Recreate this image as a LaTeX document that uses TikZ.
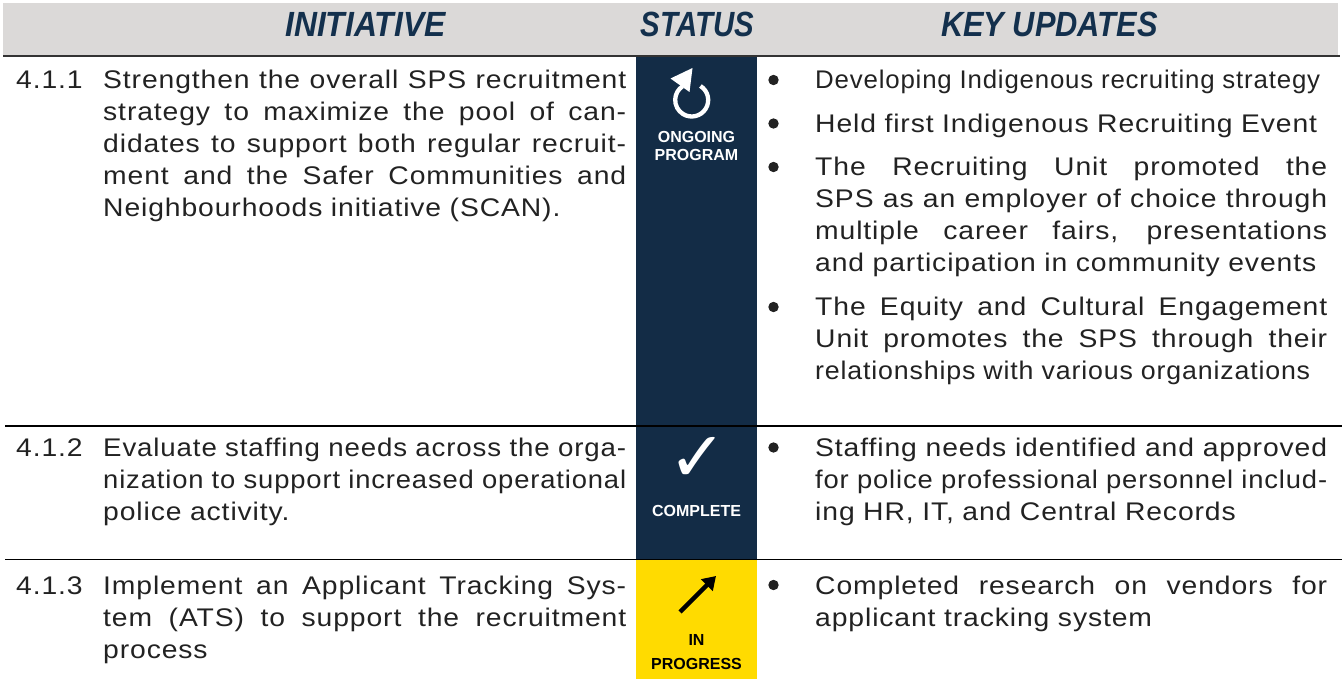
\documentclass[tikz,border=0pt]{standalone}
\usepackage{fontspec}
\usetikzlibrary{arrows.meta}
\newfontfamily\bodyfont{Liberation Sans}[LetterSpace=3.5,FakeStretch=1.11]
\newfontfamily\labfont{Liberation Sans}
\newfontfamily\symfont{DejaVu Sans}
\definecolor{navy}{HTML}{132C46}
\definecolor{headnavy}{HTML}{13304D}
\definecolor{hgray}{HTML}{DBD9D8}
\definecolor{sgold}{HTML}{FFDB00}
\definecolor{ink}{HTML}{222222}
\newsavebox\jbox
% justified line: stretch spaces, or squeeze if too wide
\newcommand\jfit[2]{\sbox\jbox{#2}\ifdim\wd\jbox>#1\relax
  \hbox{\resizebox{#1}{\height}{\usebox\jbox}}\else
  \hbox to #1{\spaceskip=\fontdimen2\font plus 30pt minus 1pt\relax #2}\fi\par}
% last line: natural, or squeeze if too wide
\newcommand\lfit[2]{\sbox\jbox{#2}\ifdim\wd\jbox>#1\relax
  \hbox{\resizebox{#1}{\height}{\usebox\jbox}}\else
  \hbox{\usebox\jbox}\fi\par}
\tikzset{
  body/.style={font=\bodyfont\fontsize{25.5}{32}\selectfont, text=ink, inner sep=0pt, anchor=base west},
  para/.style={body, text width=#1pt},
  head/.style={font=\labfont\bfseries\itshape\fontsize{35}{40}\selectfont, text=headnavy, inner sep=0pt, anchor=base},
  lab/.style={font=\labfont\bfseries\fontsize{16}{19}\selectfont, inner sep=0pt, anchor=base},
  rule/.style={line width=1.2pt, black},
  bul/.style={fill=ink}
}
\begin{document}
\begin{tikzpicture}[x=1pt,y=-1pt]
\useasboundingbox (0,0) rectangle (1342,679);
% header
\fill[hgray] (3,3) rectangle (1338,56);
\draw[line width=1.6pt, black!80] (3,56) -- (1340,56);
\node[head] (hi) at (365.5,37) {\scalebox{0.91}[1]{INITIATIVE}};
\node[head] (hs) at (697.5,37) {\scalebox{0.84}[1]{STATUS}};
\node[head] (hk) at (1049.5,37) {\scalebox{0.88}[1]{KEY UPDATES}};
% status column
\fill[navy] (636,57) rectangle (757,559.5);
\fill[sgold] (636,560) rectangle (757,679);
% row rules
\draw[rule] (5,426) -- (1342,426);
\draw[rule] (5,559.5) -- (1342,559.5);
% row 1
\node[body] (n1) at (16,89) {4.1.1};
\node[para=523] (i1) at (103,89) {\jfit{523pt}{Strengthen the overall SPS recruitment}\jfit{523pt}{strategy to maximize the pool of can-}\jfit{523pt}{didates to support both regular recruit-}\jfit{523pt}{ment and the Safer Communities and}\lfit{523pt}{Neighbourhoods initiative (SCAN).}};
% ongoing icon
\draw[white, line width=4.3pt] (691.7,100) ++(-58:16.5) arc[start angle=-58, end angle=236, radius=16.5];
\fill[white] (670.5,78.5) -- (692.5,68) -- (689.5,92) -- cycle;
\node[lab, text=white] (s1a) at (696.5,142.5) {ONGOING};
\node[lab, text=white] (s1b) at (696.5,161) {PROGRAM};
% updates row 1
\fill[bul] (773.5,80) circle (5.2);
\node[para=512] (u1) at (815,89) {\lfit{505pt}{Developing Indigenous recruiting strategy}};
\fill[bul] (773.5,123.5) circle (5.2);
\node[para=512] (u2) at (815,132.5) {\lfit{502pt}{Held first Indigenous Recruiting Event}};
\fill[bul] (773.5,167) circle (5.2);
\node[para=512] (u3) at (815,176) {\jfit{512pt}{The Recruiting Unit promoted the}\jfit{512pt}{SPS as an employer of choice through}\jfit{512pt}{multiple career fairs, presentations}\lfit{510pt}{and participation in community events}};
\fill[bul] (773.5,307) circle (5.2);
\node[para=512] (u4) at (815,316) {\jfit{512pt}{The Equity and Cultural Engagement}\jfit{512pt}{Unit promotes the SPS through their}\lfit{495pt}{relationships with various organizations}};
% row 2
\node[body] (n2) at (16,456.5) {4.1.2};
\node[para=523] (i2) at (103,456.5) {\jfit{523pt}{Evaluate staffing needs across the orga-}\jfit{523pt}{nization to support increased operational}\lfit{523pt}{police activity.}};
\node[font=\symfont\fontsize{70}{70}\selectfont, text=white, inner sep=0pt] (chk) at (697.5,459) {✓};
\node[lab, text=white] (s2) at (696.5,516) {COMPLETE};
\fill[bul] (773.5,447.5) circle (5.2);
\node[para=512] (u5) at (815,456.5) {\jfit{512pt}{Staffing needs identified and approved}\jfit{512pt}{for police professional personnel includ-}\lfit{512pt}{ing HR, IT, and Central Records}};
% row 3
\node[body] (n3) at (16,594) {4.1.3};
\node[para=523] (i3) at (103,594) {\jfit{523pt}{Implement an Applicant Tracking Sys-}\jfit{523pt}{tem (ATS) to support the recruitment}\lfit{523pt}{process}};
\coordinate (ipa) at (680,612);
\coordinate (ipb) at (716,576);
\draw[black, line width=4.5pt, -{Triangle[length=13pt,width=16pt]}] (ipa) -- (ipb);
\node[lab, text=black] (s3a) at (696.5,645.7) {IN};
\node[lab, text=black] (s3b) at (696.5,669) {PROGRESS};
\fill[bul] (773.5,585) circle (5.2);
\node[para=512] (u6) at (815,594) {\jfit{512pt}{Completed research on vendors for}\lfit{512pt}{applicant tracking system}};
\end{tikzpicture}
\end{document}
